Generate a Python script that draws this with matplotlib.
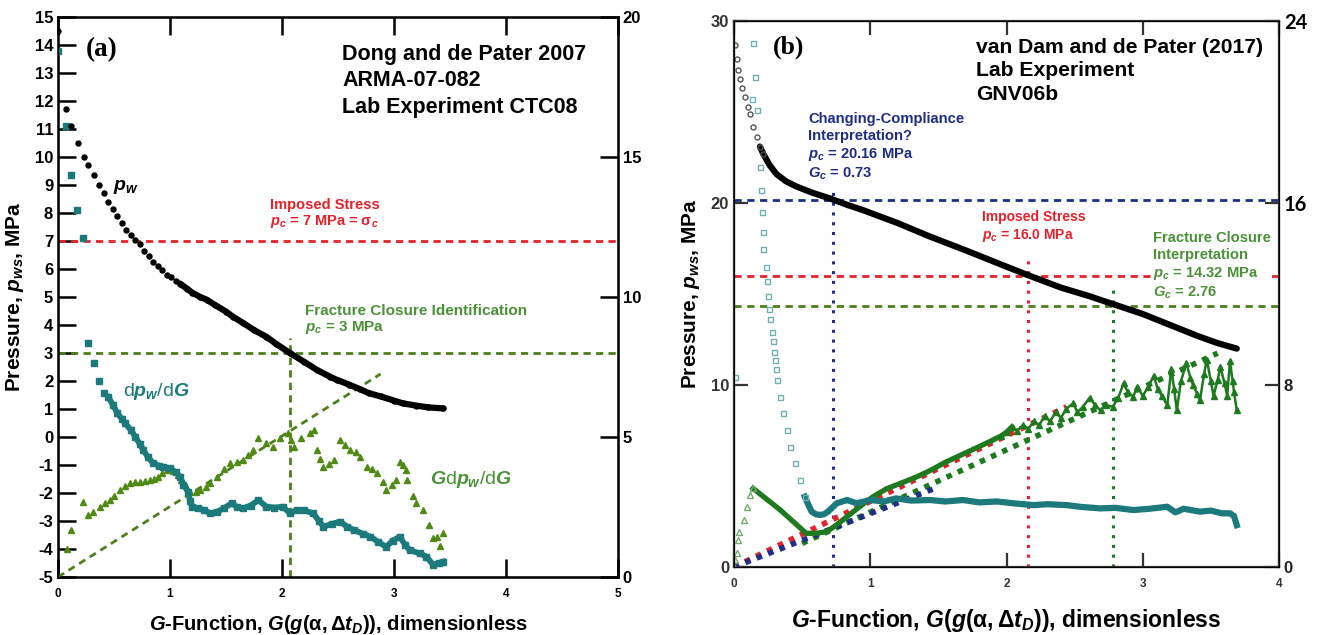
import numpy as np
import matplotlib
matplotlib.use("Agg")
import matplotlib.pyplot as plt

plt.rcParams['font.family'] = ['Liberation Sans', 'DejaVu Sans']
plt.rcParams['font.weight'] = 'bold'
plt.rcParams['mathtext.fontset'] = 'custom'
plt.rcParams['mathtext.rm'] = 'Liberation Sans:bold'
plt.rcParams['mathtext.it'] = 'Liberation Sans:italic:bold'
plt.rcParams['mathtext.bf'] = 'Liberation Sans:bold'
plt.rcParams['mathtext.sf'] = 'Liberation Sans:bold'

# ---------------- Panel (a) data: Dong and de Pater 2007 ----------------
a_pw_G = [0.00, 0.07, 0.12, 0.18, 0.23, 0.27, 0.32, 0.37, 0.41, 0.45, 0.49, 0.53, 0.57,
          0.61, 0.65, 0.69, 0.73, 0.77, 0.81, 0.85, 0.89, 0.93, 0.97, 1.01, 1.05, 1.09,
          1.15, 1.20, 1.27, 1.33, 1.40, 1.50, 1.56, 1.65, 1.75, 1.86, 1.95, 2.07, 2.20,
          2.31, 2.43, 2.49, 2.60, 2.70, 2.78, 2.88, 3.00, 3.08, 3.20, 3.30, 3.44]
a_pw = [14.5, 11.7, 11.1, 10.5, 10.0, 9.7, 9.35, 9.0, 8.7, 8.4, 8.15, 7.9, 7.65,
        7.4, 7.2, 7.05, 6.88, 6.65, 6.45, 6.25, 6.1, 5.95, 5.8, 5.7, 5.58, 5.48,
        5.3, 5.15, 5.0, 4.9, 4.72, 4.48, 4.3, 4.08, 3.82, 3.58, 3.32, 3.0, 2.68,
        2.4, 2.15, 2.04, 1.87, 1.7, 1.56, 1.45, 1.3, 1.2, 1.12, 1.06, 1.02]

a_dp_G = [0.00, 0.07, 0.12, 0.17, 0.22, 0.27, 0.32, 0.37, 0.41, 0.45, 0.49, 0.53, 0.57,
          0.60, 0.65, 0.69, 0.73, 0.76, 0.80, 0.85, 0.90, 0.94, 1.00, 1.05, 1.09, 1.12,
          1.16, 1.18, 1.20, 1.25, 1.30, 1.36, 1.42, 1.48, 1.55, 1.60, 1.65, 1.72, 1.79,
          1.86, 1.93, 2.01, 2.07, 2.13, 2.20, 2.28, 2.33, 2.37, 2.45, 2.52, 2.58, 2.64,
          2.72, 2.79, 2.86, 2.93, 2.99, 3.05, 3.10, 3.14, 3.23, 3.29, 3.35, 3.40, 3.44]
a_dp = [13.8, 11.1, 9.35, 8.1, 7.1, 3.34, 2.63, 2.0, 1.58, 1.42, 1.15, 0.85, 0.65,
        0.49, 0.25, 0.01, -0.25, -0.46, -0.7, -0.94, -1.02, -1.06, -1.12, -1.25, -1.42, -1.7,
        -1.95, -2.3, -2.5, -2.55, -2.6, -2.73, -2.67, -2.55, -2.37, -2.5, -2.55, -2.45, -2.25,
        -2.49, -2.52, -2.49, -2.73, -2.6, -2.62, -2.73, -3.0, -3.2, -3.1, -3.02, -3.2, -3.32,
        -3.45, -3.56, -3.75, -3.92, -3.7, -3.56, -3.85, -4.04, -4.16, -4.27, -4.57, -4.5, -4.45]

a_gdp_G = [0.00, 0.077, 0.12, 0.226, 0.27, 0.315, 0.375, 0.42, 0.46, 0.50, 0.55, 0.60, 0.64,
           0.69, 0.73, 0.78, 0.82, 0.86, 0.895, 0.93, 0.97, 1.03, 1.07, 1.10, 1.14, 1.18,
           1.23, 1.27, 1.32, 1.36, 1.42, 1.48, 1.54, 1.60, 1.65, 1.70, 1.74, 1.79, 1.86,
           1.92, 1.98, 2.05, 2.08, 2.11, 2.17, 2.25, 2.29, 2.31, 2.34, 2.37, 2.42, 2.46,
           2.52, 2.56, 2.61, 2.66, 2.70, 2.76, 2.80, 2.85, 2.90, 2.93, 2.98, 3.02, 3.05,
           3.08, 3.11, 3.12, 3.17, 3.20, 3.26, 3.31, 3.35, 3.38, 3.41, 3.44]
a_gdp = [-5.0, -4.0, -3.32, -2.31, -2.79, -2.67, -2.49, -2.37, -2.25, -2.1, -1.9, -1.75, -1.65,
         -1.62, -1.6, -1.57, -1.54, -1.5, -1.42, -1.3, -1.18, -1.2, -1.35, -1.54, -1.75, -1.98,
         -1.95, -1.9, -1.8, -1.65, -1.42, -1.15, -0.94, -0.9, -0.82, -0.65, -0.46, -0.05, -0.23,
         -0.35, -0.05, 0.13, -0.1, -0.35, -0.05, 0.13, 0.25, -0.46, -0.8, -1.06, -0.95, -0.82,
         -0.11, -0.3, -0.46, -0.55, -0.7, -1.06, -1.15, -1.3, -1.6, -1.9, -1.7, -1.54, -0.88,
         -1.0, -1.18, -1.54, -2.1, -2.37, -2.6, -3.14, -3.6, -3.56, -3.9, -3.44]

a_tangent_G = [0.0, 2.88]
a_tangent = [-5.0, 2.25]
a_imposed = 7.0
a_closure_p = 3.0
a_closure_G = 2.07

# ---------------- Panel (b) data: van Dam and de Pater 2017 ----------------
b_pw_G = [0.007, 0.02, 0.03, 0.044, 0.06, 0.08, 0.10, 0.117, 0.14, 0.167, 0.19, 0.215,
          0.26, 0.31, 0.38, 0.46, 0.58, 0.705, 0.83, 0.95, 1.20, 1.44, 1.70, 1.95, 2.156,
          2.40, 2.60, 2.78, 3.00, 3.20, 3.40, 3.55, 3.69]
b_pw = [28.7, 27.9, 27.3, 26.8, 26.3, 25.8, 25.3, 24.9, 24.2, 23.6, 23.1, 22.7,
        22.1, 21.6, 21.2, 20.9, 20.55, 20.25, 19.9, 19.6, 18.9, 18.15, 17.4, 16.65, 16.04,
        15.35, 14.9, 14.45, 13.9, 13.3, 12.7, 12.3, 12.0]

b_dp_G = [0.005, 0.13, 0.14, 0.154, 0.167, 0.19, 0.196, 0.203, 0.21, 0.215, 0.232, 0.245,
          0.252, 0.26, 0.264, 0.277, 0.284, 0.294, 0.30, 0.308, 0.313, 0.338, 0.362, 0.387,
          0.41, 0.448, 0.484, 0.52, 0.55, 0.57, 0.60, 0.63, 0.66, 0.69, 0.754, 0.83, 0.90,
          1.00, 1.10, 1.19, 1.30, 1.44, 1.55, 1.68, 1.80, 1.93, 2.05, 2.20, 2.30, 2.44,
          2.55, 2.69, 2.80, 2.93, 3.05, 3.18, 3.24, 3.30, 3.42, 3.50, 3.58, 3.64, 3.67, 3.69]
b_dp = [10.45, 25.7, 28.8, 26.9, 25.1, 22.0, 20.7, 19.5, 18.4, 17.5, 16.5, 15.7,
        14.9, 14.2, 13.6, 12.9, 12.4, 11.8, 11.4, 10.9, 10.3, 9.36, 8.45, 7.53,
        6.6, 5.7, 4.78, 3.86, 3.35, 3.04, 2.9, 2.86, 2.9, 3.04, 3.5, 3.68, 3.5,
        3.68, 3.6, 3.77, 3.65, 3.68, 3.6, 3.68, 3.55, 3.6, 3.5, 3.4, 3.45, 3.4,
        3.3, 3.22, 3.25, 3.13, 3.2, 3.31, 3.0, 3.2, 3.04, 3.1, 2.95, 2.95, 2.8, 2.3]

b_gdp_G = [0.0, 0.01, 0.02, 0.03, 0.04, 0.07, 0.093, 0.117, 0.14, 0.34, 0.53, 0.60, 0.68,
           0.75, 0.83, 0.92, 1.02, 1.12, 1.24, 1.34, 1.44, 1.55, 1.68, 1.78, 1.88, 1.96,
           2.00, 2.04, 2.08, 2.12, 2.16, 2.20, 2.24, 2.28, 2.32, 2.36, 2.40, 2.44, 2.49,
           2.52, 2.56, 2.61, 2.65, 2.69, 2.73, 2.78, 2.82, 2.86, 2.89, 2.93, 2.96, 3.00,
           3.04, 3.08, 3.11, 3.14, 3.18, 3.21, 3.23, 3.25, 3.28, 3.32, 3.35, 3.37, 3.40,
           3.42, 3.45, 3.47, 3.50, 3.52, 3.55, 3.57, 3.60, 3.62, 3.64, 3.66, 3.67, 3.69]
b_gdp = [0.0, 0.4, 0.75, 1.5, 1.9, 2.58, 3.3, 3.96, 4.32, 3.13, 1.85, 1.85, 1.94,
         2.3, 2.77, 3.3, 3.86, 4.3, 4.65, 4.95, 5.3, 5.75, 6.2, 6.55, 6.9, 7.2,
         7.4, 7.7, 7.5, 7.8, 7.6, 8.0, 7.8, 8.3, 8.0, 8.5, 8.2, 8.7, 9.0,
         8.5, 8.8, 9.3, 8.9, 8.6, 8.9, 8.8, 9.3, 10.1, 9.6, 9.36, 9.9, 9.4,
         9.9, 10.5, 9.8, 9.4, 8.9, 10.9, 9.8, 8.6, 10.2, 11.2, 10.4, 10.0, 9.5,
         9.15, 10.6, 11.4, 10.2, 9.4, 10.3, 11.0, 10.1, 9.4, 11.3, 10.2, 9.6, 8.6]

b_red_tan_G = [0.0, 2.44]
b_red_tan = [0.0, 8.8]
b_green_tan_G = [0.5, 3.55]
b_green_tan = [1.3, 11.75]
b_blue_tan_G = [0.0, 1.5]
b_blue_tan = [0.0, 4.4]
b_cc_p, b_cc_G = 20.16, 0.73
b_imp_p, b_imp_G = 16.0, 2.16
b_fc_p, b_fc_G = 14.32, 2.78

# ---------------- colours ----------------
TEAL = '#1d7a7c'
TEAL_L = '#6fb0b0'
OLIVE = '#4f8a14'
OLIVE_D = '#4d7f1c'
RED = '#e3222b'
NAVY = '#1f2d86'
GREEN = '#1e7a1e'
GREEN_L = '#74aa6e'
GREEN_T = '#4a9238'

fig = plt.figure(figsize=(13.2, 6.35), dpi=100)
W, H = 1320.0, 635.0
all_texts = []


def axes_px(x0, y0, x1, y1):
    return fig.add_axes([x0 / W, 1 - y1 / H, (x1 - x0) / W, (y1 - y0) / H])


def ftext(x, y, s, **kw):
    t = fig.text(x / W, 1 - y / H, s, **kw)
    all_texts.append(t)
    return t


# ================= Panel (a) =================
ax = axes_px(58, 17, 618, 577)
ax.set_xlim(0, 5)
ax.set_ylim(-5, 15)
for sp in ax.spines.values():
    sp.set_linewidth(1.8)

G = np.array(a_pw_G); P = np.array(a_pw)
m = G >= 1.09
ax.plot(G[m], P[m], color='black', lw=4.5, solid_capstyle='round', zorder=5)
ax.plot(G, P, 'o', color='black', ms=3.6, zorder=5)

G = np.array(a_dp_G); P = np.array(a_dp)
m = G >= 0.45
ax.plot(G[m], P[m], color=TEAL, lw=4.2, zorder=4)
ax.plot(G, P, 's', color=TEAL, ms=3.8, zorder=4)

ax.plot(a_gdp_G, a_gdp, '^', color=OLIVE, ms=4.6, zorder=3)

ax.plot(a_tangent_G, a_tangent, color=OLIVE_D, lw=2.0, ls=(0, (2.6, 1.9)), zorder=2)
ax.axhline(a_imposed, color=RED, lw=2.0, ls=(0, (2.6, 1.9)), zorder=2)
ax.axhline(a_closure_p, color=OLIVE_D, lw=2.0, ls=(0, (2.6, 1.9)), zorder=2)
ax.plot([a_closure_G, a_closure_G], [-5, 3.55], color=OLIVE_D, lw=2.0,
        ls=(0, (2.6, 1.9)), zorder=2)

ax.set_xticks([0, 1, 2, 3, 4, 5])
ax.set_xticklabels(['0', '1', '2', '3', '4', '5'])
ax.set_yticks(np.arange(-5, 16, 1))
ax.set_yticklabels([str(v) for v in range(-5, 16)])
ax.tick_params(axis='both', direction='in', length=13, width=1.8, top=True,
               labelsize=12)
ax.tick_params(axis='x', labelsize=8.5, pad=8)
for lab in ax.get_xticklabels() + ax.get_yticklabels():
    lab.set_fontweight('bold')
ax2 = ax.twinx()
ax2.set_ylim(0, 20)
ax2.set_yticks([0, 5, 10, 15, 20])
ax2.tick_params(axis='y', direction='in', length=13, width=1.8, labelsize=12)
for lab in ax2.get_yticklabels():
    lab.set_fontweight('bold')

yl1 = ax.set_ylabel(r'Pressure, $p_{ws}$, MPa', fontsize=15, fontweight='bold', labelpad=6)
xl1 = ax.set_xlabel(r'$G$-Function, $G(g(\mathrm{\alpha},\Delta t_D))$, dimensionless',
                    fontsize=14.5, fontweight='bold', labelpad=9)
all_texts += [yl1, xl1]

ftext(86, 50, '(a)', fontsize=19.5, fontweight='bold', va='center',
      family=['Liberation Serif'])
ftext(342, 81, 'Dong and de Pater 2007\nARMA-07-082\nLab Experiment CTC08',
      fontsize=15.5, fontweight='bold', va='center', linespacing=1.36)
ftext(113, 187, r'$p_w$', fontsize=14, va='center', color='black')
ftext(270, 214, 'Imposed Stress\n' + r'$p_c$ = 7 MPa = σ$_c$', fontsize=10.5,
      color=RED, va='center', fontweight='bold', linespacing=1.05)
ftext(305, 320, 'Fracture Closure Identification\n' + r'$p_c$ = 3 MPa', fontsize=11,
      color=GREEN_T, va='center', fontweight='bold', linespacing=1.15)
ftext(123, 392, r'd$p_w$/d$G$', fontsize=14, color=TEAL, va='center',
      fontweight='normal')
ftext(430, 480, r'$G$d$p_w$/d$G$', fontsize=14, color=GREEN_T, va='center',
      fontweight='normal')

# ================= Panel (b) =================
bx = axes_px(734, 21, 1279, 567)
bx.set_xlim(0, 4)
bx.set_ylim(0, 30)
for sp in bx.spines.values():
    sp.set_linewidth(1.6)
    sp.set_color('#333333')

G = np.array(b_pw_G); P = np.array(b_pw)
m = G >= 0.19
bx.plot(G[m], P[m], color='black', lw=4.5, solid_capstyle='round', zorder=6)
m2 = G <= 0.22
bx.plot(G[m2], P[m2], 'o', mfc='none', mec='#555555', ms=3.6, mew=1.0, zorder=6)

G = np.array(b_dp_G); P = np.array(b_dp)
m = G >= 0.5
bx.plot(G[m], P[m], color=TEAL, lw=4.5, zorder=5)
m2 = G < 0.55
bx.plot(G[m2], P[m2], 's', mfc='none', mec=TEAL_L, ms=3.6, mew=1.0, zorder=5)

G = np.array(b_gdp_G); P = np.array(b_gdp)
m = (G >= 0.14) & (G <= 2.05)
bx.plot(G[m], P[m], color=GREEN, lw=3.8, zorder=4)
m2 = G >= 1.96
bx.plot(G[m2], P[m2], color=GREEN, lw=1.8, zorder=4)
bx.plot(G[m2], P[m2], '^', color=GREEN, ms=4.6, zorder=4)
m3 = G <= 0.14
bx.plot(G[m3], P[m3], '^', mfc='none', mec=GREEN_L, ms=4, mew=1.0, zorder=4)

DOT = (0, (1.0, 1.2))
bx.plot(b_red_tan_G, b_red_tan, color=RED, lw=4, ls=DOT, zorder=3)
bx.plot(b_green_tan_G, b_green_tan, color=GREEN, lw=4, ls=DOT, zorder=3)
bx.plot(b_blue_tan_G, b_blue_tan, color=NAVY, lw=4, ls=DOT, zorder=3)

DASH = (0, (2.6, 2.0))
bx.axhline(b_cc_p, color=NAVY, lw=2.0, ls=DASH, zorder=2)
bx.axhline(b_imp_p, color=RED, lw=2.0, ls=DASH, zorder=2)
bx.axhline(b_fc_p, color=OLIVE_D, lw=2.0, ls=DASH, zorder=2)
VDOT = (0, (1.0, 2.2))
bx.plot([b_cc_G, b_cc_G], [0, 20.9], color=NAVY, lw=2.2, ls=VDOT, zorder=2)
bx.plot([b_imp_G, b_imp_G], [0, 17.1], color=RED, lw=2.2, ls=VDOT, zorder=2)
bx.plot([b_fc_G, b_fc_G], [0, 15.2], color=GREEN, lw=2.2, ls=VDOT, zorder=2)

bx.set_xticks([0, 1, 2, 3, 4])
bx.set_xticklabels(['0', '1', '2', '3', '4'])
bx.set_yticks([0, 10, 20, 30])
bx.set_yticklabels(['0', '10', '20', '30'])
bx.tick_params(axis='both', direction='in', length=10, width=1.6, top=True,
               labelsize=12, colors='#333333', labelcolor='#333333')
bx.tick_params(axis='x', labelsize=8.5, pad=8)
for lab in bx.get_xticklabels() + bx.get_yticklabels():
    lab.set_fontweight('bold')
bx2 = bx.twinx()
bx2.set_ylim(0, 24)
bx2.set_yticks([0, 8, 16, 24])
bx2.set_yticklabels(['0', '8', '16', '24'])
bx2.tick_params(axis='y', direction='in', length=10, width=1.6, labelsize=12,
                colors='#333333', labelcolor='#222222')
for lab in bx2.get_yticklabels():
    lab.set_fontweight('bold')
    if lab.get_text() in ('16', '24'):
        lab.set_fontfamily(['Lato', 'DejaVu Sans'])
        lab.set_fontsize(14.5)
        lab.set_color('black')

yl2 = bx.set_ylabel(r'Pressure, $p_{ws}$, MPa', fontsize=15, fontweight='bold', labelpad=6)
xl2 = bx.set_xlabel(r'$G$-Function, $G(g(\mathrm{\alpha},\Delta t_D))$, dimensionless',
                    fontsize=16.5, fontweight='bold', labelpad=12)
all_texts += [yl2, xl2]

ftext(773, 47, '(b)', fontsize=18.5, fontweight='bold', va='center',
      family=['Liberation Serif'])
ftext(976, 71, 'van Dam and de Pater (2017)\nLab Experiment\nGNV06b',
      fontsize=15.2, fontweight='bold', va='center', linespacing=1.3)
ftext(808, 147, 'Changing-Compliance\nInterpretation?\n' + r'$p_c$ = 20.16 MPa' + '\n'
      + r'$G_c$ = 0.73', fontsize=10.6, color=NAVY, va='center', fontweight='bold',
      linespacing=1.25)
ftext(982, 227, 'Imposed Stress\n' + r'$p_c$ = 16.0 MPa', fontsize=10, color=RED,
      va='center', fontweight='bold', linespacing=1.2)
ftext(1153, 266, 'Fracture Closure\nInterpretation\n' + r'$p_c$ = 14.32 MPa' + '\n'
      + r'$G_c$ = 2.76', fontsize=10.6, color=GREEN_T, va='center', fontweight='bold',
      linespacing=1.22,
      bbox=dict(boxstyle='square,pad=0.05', facecolor='white', edgecolor='none'),
      zorder=10)

try:
    fig.savefig('out.png', dpi=100)
except Exception:
    for t in all_texts:
        t.set_math_fontfamily('dejavusans')
    fig.savefig('out.png', dpi=100)
